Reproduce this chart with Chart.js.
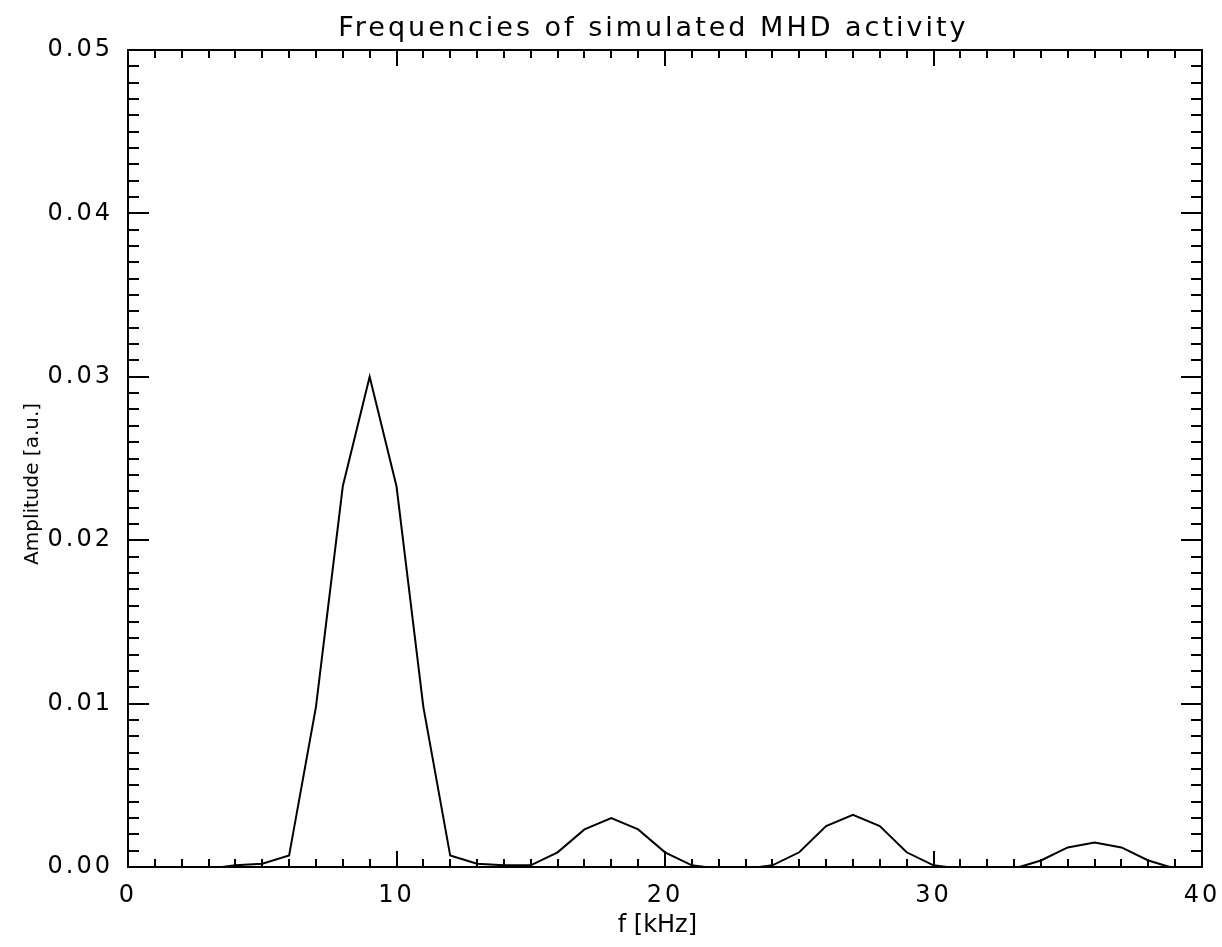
<!DOCTYPE html>
<html>
<head>
<meta charset="utf-8">
<script src="https://cdn.jsdelivr.net/npm/chart.js@4/dist/chart.umd.min.js"></script>
<style>
  body { margin: 0; background: #fff; }
</style>
</head>
<body>
<canvas id="c" width="1222" height="947"></canvas>
<script>
// spectrum (kHz, a.u.); null breaks the line
const freqKHz = [3.5, 4, 5, 6, 7, 8, 9, 10, 11, 12,
  13, 14, 15, 16, 17, 18, 19, 20, 21, 21.5,
  22.5,
  23.5, 24, 25, 26, 27, 28, 29, 30, 30.5,
  32,
  33.2, 34, 35, 36, 37, 38, 38.8];
const amplitude = [0, 0.0001, 0.0002, 0.0007, 0.0098, 0.0233, 0.0300, 0.0233, 0.0098, 0.0007,
  0.0002, 0.0001, 0.0001, 0.0009, 0.0023, 0.0030, 0.0023, 0.0009, 0.0001, 0,
  null,
  0, 0.0001, 0.0009, 0.0025, 0.0032, 0.0025, 0.0009, 0.0001, 0,
  null,
  0, 0.0004, 0.0012, 0.0015, 0.0012, 0.0004, 0];

const xRange = [0, 40];
const yRange = [0, 0.05];
const xMajor = 10;
const yMajor = 0.01;
const minorPerMajor = 10;

const FONT = 'DejaVu Sans';
const WIDE = '3px';

// IDL style: wide tick labels and title, plain axis titles
const spacing = {
  id: 'spacing',
  beforeUpdate(chart) { chart.ctx.letterSpacing = WIDE; },
  beforeDraw(chart) { chart.ctx.letterSpacing = WIDE; },
  afterLayout(chart) {
    ['x', 'y'].forEach(id => {
      const s = chart.scales[id];
      if (s._plainTitle) return;
      const orig = s.drawTitle.bind(s);
      s.drawTitle = function () {
        const ctx = this.ctx;
        ctx.letterSpacing = '0px';
        orig();
        ctx.letterSpacing = WIDE;
      };
      s._plainTitle = true;
    });
  }
};

// ticks pointing into the plot box on all four sides
const innerTicks = {
  id: 'innerTicks',
  afterDraw(chart) {
    const {ctx, chartArea: a, scales: {x, y}} = chart;
    ctx.save();
    ctx.strokeStyle = '#000';
    ctx.lineWidth = 2;
    ctx.beginPath();
    const xStep = xMajor / minorPerMajor;
    const n = Math.round((x.max - x.min) / xStep);
    for (let i = 0; i <= n; i++) {
      const px = Math.round(x.getPixelForValue(x.min + i * xStep));
      const len = i % minorPerMajor === 0 ? 16 : 8;
      ctx.moveTo(px, a.bottom); ctx.lineTo(px, a.bottom - len);
      ctx.moveTo(px, a.top); ctx.lineTo(px, a.top + len);
    }
    const yStep = yMajor / minorPerMajor;
    const m = Math.round((y.max - y.min) / yStep);
    for (let i = 0; i <= m; i++) {
      const py = Math.round(y.getPixelForValue(y.min + i * yStep));
      const len = i % minorPerMajor === 0 ? 21 : 11;
      ctx.moveTo(a.left, py); ctx.lineTo(a.left + len, py);
      ctx.moveTo(a.right, py); ctx.lineTo(a.right - len, py);
    }
    ctx.stroke();
    ctx.restore();
  }
};

const border = {display: true, color: '#000', width: 2};
const noGrid = {display: false, drawTicks: false};

new Chart(document.getElementById('c'), {
  type: 'line',
  data: {
    datasets: [{
      data: freqKHz.map((f, i) => ({x: f, y: amplitude[i]})),
      borderColor: '#000',
      borderWidth: 2,
      pointRadius: 0,
      tension: 0,
      spanGaps: false,
      clip: false,
      xAxisID: 'x',
      yAxisID: 'y'
    }]
  },
  options: {
    responsive: false,
    animation: false,
    devicePixelRatio: 1,
    layout: {padding: 0},
    plugins: {legend: {display: false}, tooltip: {enabled: false}},
    scales: {
      x: {
        type: 'linear', position: 'bottom',
        min: xRange[0], max: xRange[1],
        ticks: {stepSize: xMajor, color: '#000', padding: 14, maxRotation: 0,
                font: {family: FONT, size: 24}},
        grid: noGrid, border: border,
        title: {display: true, text: 'f [kHz]  ', color: '#000',
                font: {family: FONT, size: 24}, padding: {top: 0, bottom: 7}},
        afterFit(s) { s.height = 80; s.paddingLeft = 0; s.paddingRight = 0; }
      },
      x2: {
        type: 'linear', position: 'top',
        min: xRange[0], max: xRange[1],
        ticks: {display: false},
        grid: noGrid, border: border,
        title: {display: true, text: 'Frequencies of simulated MHD activity  ', color: '#000',
                font: {family: FONT, size: 27}, padding: {top: 13, bottom: 0}},
        afterFit(s) { s.height = 50; s.paddingLeft = 0; s.paddingRight = 0; }
      },
      y: {
        type: 'linear', position: 'left',
        min: yRange[0], max: yRange[1],
        ticks: {stepSize: yMajor, color: '#000', padding: 15,
                font: {family: FONT, size: 24},
                callback: v => v.toFixed(2)},
        grid: noGrid, border: border,
        title: {display: true, text: 'Amplitude [a.u.]        ', color: '#000',
                font: {family: FONT, size: 20}, padding: {top: 21, bottom: 0}},
        afterFit(s) { s.width = 128; s.paddingTop = 0; s.paddingBottom = 0; }
      },
      y2: {
        type: 'linear', position: 'right',
        min: yRange[0], max: yRange[1],
        ticks: {display: false},
        grid: noGrid, border: border,
        afterFit(s) { s.width = 20; s.paddingTop = 0; s.paddingBottom = 0; }
      }
    }
  },
  plugins: [spacing, innerTicks]
});
</script>
</body>
</html>
